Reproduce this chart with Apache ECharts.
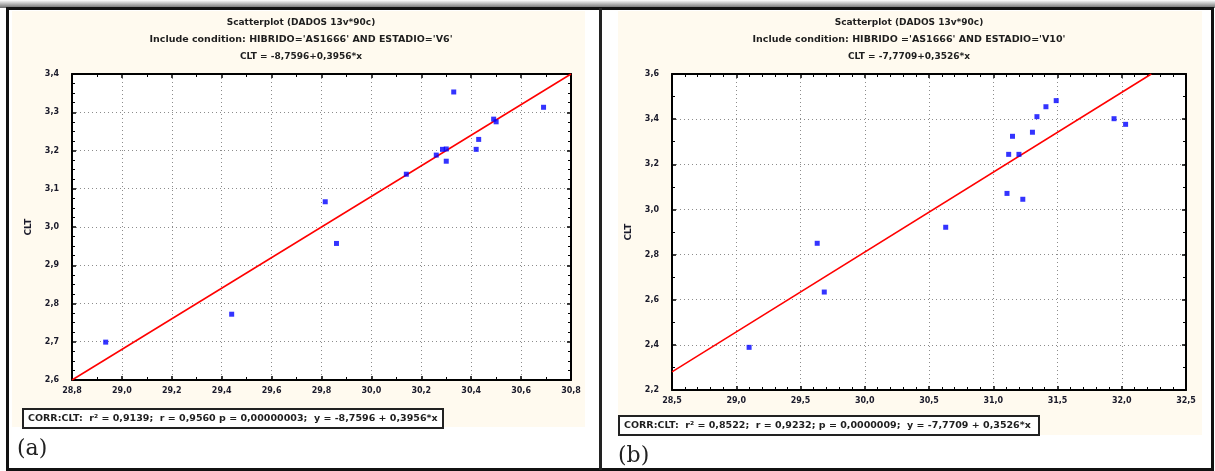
<!DOCTYPE html>
<html>
<head>
<meta charset="utf-8">
<script src="https://cdn.jsdelivr.net/npm/echarts@6/dist/echarts.min.js"></script>
<style>
html,body{margin:0;padding:0;background:#fff;}
#c{width:1215px;height:471px;}
</style>
</head>
<body>
<div id="c"></div>
<script>
// ---- data ----
// Panel (a): HIBRIDO='AS1666' AND ESTADIO='V6'
const xA = [30.33, 30.69, 30.49, 30.50, 30.43, 30.42, 30.285, 30.30, 30.26, 30.30, 30.14, 29.815, 29.86, 29.44, 28.935];
const yA = [3.353, 3.313, 3.282, 3.275, 3.229, 3.203, 3.203, 3.204, 3.188, 3.172, 3.138, 3.066, 2.957, 2.772, 2.699];
const fitXA = [28.8, 30.8];
const fitYA = [2.6, 3.4];
// Panel (b): HIBRIDO='AS1666' AND ESTADIO='V10'
const xB = [31.49, 31.41, 31.34, 31.305, 31.15, 31.12, 31.20, 31.107, 31.23, 31.94, 32.03, 30.63, 29.63, 29.685, 29.10];
const yB = [3.482, 3.455, 3.411, 3.342, 3.324, 3.244, 3.244, 3.071, 3.045, 3.402, 3.377, 2.921, 2.850, 2.634, 2.389];
const fitXB = [28.5, 32.23];
const fitYB = [2.28, 3.6];

// axis ranges
const axisA = {xmin: 28.8, xmax: 30.8, xstep: 0.2, ymin: 2.6, ymax: 3.4, ystep: 0.1};
const axisB = {xmin: 28.5, xmax: 32.5, xstep: 0.5, ymin: 2.2, ymax: 3.6, ystep: 0.2};

// texts
const titleLines = ['Scatterplot (DADOS 13v*90c)'];
const condA = "Include condition: HIBRIDO='AS1666' AND ESTADIO='V6'";
const condB = "Include condition: HIBRIDO ='AS1666' AND ESTADIO='V10'";
const eqA = 'CLT = -8,7596+0,3956*x';
const eqB = 'CLT = -7,7709+0,3526*x';
const corrA = 'CORR:CLT:  r² = 0,9139;  r = 0,9560 p = 0,00000003;  y = -8,7596 + 0,3956*x';
const corrB = 'CORR:CLT:  r² = 0,8522;  r = 0,9232; p = 0,0000009;  y = -7,7709 + 0,3526*x';
const yName = 'CLT';
const panelLabels = ['(a)', '(b)'];

// ---- chart ----
const FONT = '"DejaVu Sans", Verdana, sans-serif';
const fmt = v => v.toFixed(1).replace('.', ',');
const zip = (a, b) => a.map((v, i) => [v, b[i]]);

function xAxes(ax, gi, xMinor) {
  const base = {
    gridIndex: gi, type: 'value', min: ax.xmin, max: ax.xmax, interval: ax.xstep,
    axisLine: {show: true, onZero: false, lineStyle: {color: '#000', width: 2}},
    axisTick: {show: true, inside: true, length: 4, lineStyle: {color: '#000', width: 1.5}},
    minorTick: {show: true, splitNumber: xMinor, length: 3, lineStyle: {color: '#000', width: 1}},
  };
  return [
    Object.assign({}, base, {
      position: 'bottom',
      splitLine: {show: true, lineStyle: {type: [1, 3], color: '#8c8c8c', width: 1}},
      axisLabel: {show: true, margin: 7, formatter: fmt, fontFamily: FONT, fontWeight: 'bold', fontSize: 8, color: '#1a1a2a', showMinLabel: true, showMaxLabel: true}
    }),
    Object.assign({}, base, {position: 'top', splitLine: {show: false}, axisLabel: {show: false}})
  ];
}
function yAxes(ax, gi, yMinor, nameGap) {
  const base = {
    gridIndex: gi, type: 'value', min: ax.ymin, max: ax.ymax, interval: ax.ystep,
    axisLine: {show: true, onZero: false, lineStyle: {color: '#000', width: 2}},
    axisTick: {show: true, inside: true, length: 4, lineStyle: {color: '#000', width: 1.5}},
    minorTick: {show: true, splitNumber: yMinor, length: 3, lineStyle: {color: '#000', width: 1}},
  };
  return [
    Object.assign({}, base, {
      position: 'left',
      name: yName, nameLocation: 'middle', nameRotate: 90, nameGap: nameGap,
      nameTextStyle: {fontFamily: FONT, fontWeight: 'bold', fontSize: 9, color: '#1a1a2a'},
      splitLine: {show: true, lineStyle: {type: [1, 3], color: '#8c8c8c', width: 1}},
      axisLabel: {show: true, margin: 13, formatter: fmt, fontFamily: FONT, fontWeight: 'bold', fontSize: 8, color: '#1a1a2a', showMinLabel: true, showMaxLabel: true}
    }),
    Object.assign({}, base, {position: 'right', splitLine: {show: false}, axisLabel: {show: false}})
  ];
}

function textEl(t, x, y, opts) {
  return Object.assign({
    type: 'text', z: 50,
    style: Object.assign({text: t, x: x, y: y, align: 'center', verticalAlign: 'middle',
      font: 'bold 9.5px ' + FONT, fill: '#1e1e1e'}, opts || {})
  });
}

const graphics = [
  // outer frame shadow
  {type: 'rect', z: -100, shape: {x: 0, y: 0, width: 1215, height: 8},
   style: {fill: new echarts.graphic.LinearGradient(0, 0, 0, 1, [{offset: 0, color: '#ffffff'}, {offset: 1, color: '#6a6a6a'}])}},
  // cream panels
  {type: 'rect', z: -90, shape: {x: 12, y: 11, width: 573, height: 416}, style: {fill: '#fffaef'}},
  {type: 'rect', z: -90, shape: {x: 618, y: 11, width: 584, height: 424}, style: {fill: '#fffaef'}},
  // frame lines
  {type: 'rect', z: 40, shape: {x: 7.5, y: 8.5, width: 1205, height: 461}, style: {fill: null, stroke: '#111', lineWidth: 3}},
  {type: 'line', z: 40, shape: {x1: 600.5, y1: 8, x2: 600.5, y2: 470}, style: {stroke: '#222', lineWidth: 3}},
  // titles (a)
  textEl(titleLines[0], 301, 23, {font: 'bold 9px ' + FONT}),
  textEl(condA, 301, 40),
  textEl(eqA, 301, 57, {font: 'bold 9px ' + FONT}),
  // titles (b)
  textEl(titleLines[0], 909, 23, {font: 'bold 9px ' + FONT}),
  textEl(condB, 909, 40),
  textEl(eqB, 909, 57, {font: 'bold 9px ' + FONT}),
  // correlation boxes
  {type: 'rect', z: 45, shape: {x: 23, y: 409, width: 420, height: 19}, style: {fill: '#ffffff', stroke: '#222', lineWidth: 2}},
  textEl(corrA, 28, 418.5, {align: 'left', font: 'bold 9.5px ' + FONT}),
  {type: 'rect', z: 45, shape: {x: 619, y: 416, width: 420, height: 19}, style: {fill: '#ffffff', stroke: '#222', lineWidth: 2}},
  textEl(corrB, 624, 425.5, {align: 'left', font: 'bold 9.5px ' + FONT}),
  // panel labels
  textEl(panelLabels[0], 17, 449, {align: 'left', font: '22px "DejaVu Serif", serif', fill: '#222'}),
  textEl(panelLabels[1], 618, 456, {align: 'left', font: '22px "DejaVu Serif", serif', fill: '#222'})
];

const chart = echarts.init(document.getElementById('c'), null, {renderer: 'canvas'});
chart.setOption({
  animation: false,
  backgroundColor: 'transparent',
  grid: [
    {left: 72, top: 74, width: 499, height: 306, show: true, backgroundColor: '#ffffff', borderWidth: 0},
    {left: 672, top: 74, width: 514, height: 316, show: true, backgroundColor: '#ffffff', borderWidth: 0}
  ],
  xAxis: [].concat(xAxes(axisA, 0, 2), xAxes(axisB, 1, 5)),
  yAxis: [].concat(yAxes(axisA, 0, 4, 39), yAxes(axisB, 1, 2, 39)),
  graphic: {elements: graphics},
  series: [
    {type: 'line', xAxisIndex: 0, yAxisIndex: 0, data: zip(fitXA, fitYA), showSymbol: false, symbol: 'none',
     lineStyle: {color: '#ff0000', width: 1.5}, z: 3},
    {type: 'scatter', xAxisIndex: 0, yAxisIndex: 0, data: zip(xA, yA), symbol: 'rect', symbolSize: 5,
     itemStyle: {color: '#0000ff'}, z: 4},
    {type: 'line', xAxisIndex: 2, yAxisIndex: 2, data: zip(fitXB, fitYB), showSymbol: false, symbol: 'none',
     lineStyle: {color: '#ff0000', width: 1.5}, z: 3},
    {type: 'scatter', xAxisIndex: 2, yAxisIndex: 2, data: zip(xB, yB), symbol: 'rect', symbolSize: 5,
     itemStyle: {color: '#0000ff'}, z: 4}
  ]
});
</script>
</body>
</html>
